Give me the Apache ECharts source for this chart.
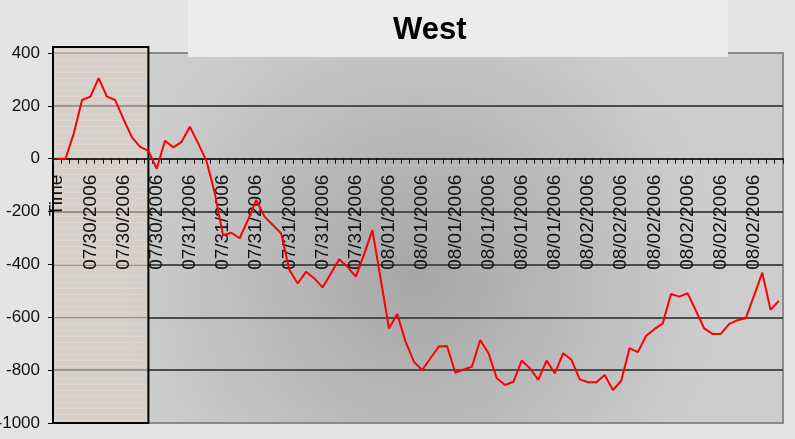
<!DOCTYPE html>
<html>
<head>
<meta charset="utf-8">
<script src="https://cdn.jsdelivr.net/npm/echarts@6/dist/echarts.min.js"></script>
<style>
  html, body { margin: 0; padding: 0; background: #e4e4e4; }
  #chart { width: 795px; height: 439px; }
</style>
</head>
<body>
<div id="chart"></div>
<script>
// Hourly readings for the West region, 07/30/2006 – 08/02/2006
const headerLabel = 'Time';
const days = ['07/30/2006', '07/31/2006', '08/01/2006', '08/02/2006'];
const hoursPerDay = [15, 24, 24, 24];

const values = [
  0, 0, 95, 222, 235, 305, 235, 222, 150, 82, 45, 30,
  -38, 68, 43, 64, 121, 58, -8, -130, -290, -280, -301, -232,
  -156, -219, -251, -282, -421, -472, -428, -453, -487, -434, -380, -409,
  -446, -362, -270, -455, -642, -588, -692, -768, -800, -755, -711, -709,
  -810, -797, -787, -686, -736, -831, -856, -844, -764, -793, -837, -764,
  -812, -736, -761, -835, -846, -846, -818, -875, -840, -717, -732, -670,
  -645, -623, -512, -522, -509, -575, -642, -663, -663, -626, -611, -604,
  -519, -431, -572, -538
];

const yMin = -1000;
const yMax = 400;
const yStep = 200;

// last hour of the highlighted block at the start of the series
const highlightEnd = 11;

const categories = [headerLabel];
days.forEach(function (d, i) {
  for (let h = 0; h < hoursPerDay[i]; h++) categories.push(d);
});

const FONT = '"Liberation Sans", Arial, sans-serif';

// faint striped texture for the highlighted block
const stripe = document.createElement('canvas');
stripe.width = 4;
stripe.height = 6;
const sc = stripe.getContext('2d');
sc.fillStyle = 'rgba(214,211,207,0.55)';
sc.fillRect(0, 0, 4, 6);
sc.fillStyle = 'rgba(236,214,192,0.6)';
sc.fillRect(0, 0, 4, 1);

const chart = echarts.init(document.getElementById('chart'), null, { renderer: 'canvas' });

chart.setOption({
  backgroundColor: '#e4e4e4',
  animation: false,
  title: {
    text: 'West',
    left: 388,
    top: 10,
    z: 10,
    textStyle: { fontFamily: FONT, fontSize: 31, fontWeight: 'bold', color: '#000' }
  },
  grid: {
    left: 53, right: 12, top: 53, bottom: 16,
    outerBoundsMode: 'none',
    containLabel: false,
    show: true,
    borderColor: '#8c8c8c',
    borderWidth: 2,
    backgroundColor: {
      type: 'radial', x: 0.5, y: 0.6, r: 0.8,
      colorStops: [
        { offset: 0, color: '#a6a6a6' },
        { offset: 1, color: '#cdcdcd' }
      ]
    }
  },
  xAxis: {
    type: 'category',
    data: categories,
    boundaryGap: true,
    position: 'bottom',
    z: 2,
    axisLine: { onZero: false, lineStyle: { color: '#2a2a2a', width: 2 } },
    axisTick: { show: true, interval: 0, length: 5, lineStyle: { color: '#111', width: 1 } },
    axisLabel: {
      interval: 3, rotate: 90, margin: 16,
      fontFamily: FONT, fontSize: 19, color: '#111'
    },
    splitLine: { show: false }
  },
  yAxis: {
    type: 'value',
    min: yMin, max: yMax, interval: yStep,
    axisLine: { show: true, lineStyle: { color: '#000', width: 2 } },
    axisTick: { show: true, length: 5, lineStyle: { color: '#000', width: 1 } },
    axisLabel: {
      margin: 13, fontFamily: FONT, fontSize: 17, color: '#111',
      formatter: function (v) { return String(v); }
    },
    splitLine: {
      show: true,
      lineStyle: {
        width: 2,
        color: ['#8a8a8a', '#4c4c4c', '#4c4c4c', '#4c4c4c', '#4c4c4c', '#4c4c4c', '#4c4c4c', '#8a8a8a']
      }
    }
  },
  series: [{
    type: 'line',
    data: values,
    symbol: 'none',
    z: 3,
    lineStyle: { color: '#ff0000', width: 2 },
    itemStyle: { color: '#ff0000' }
  }]
});

// the category axis crosses the value axis at zero
const zeroY = chart.convertToPixel({ yAxisIndex: 0 }, 0);
const bottomY = chart.convertToPixel({ yAxisIndex: 0 }, yMin);

// outlined block over the first hours, placed through the axis scales
const px0 = chart.convertToPixel({ xAxisIndex: 0 }, 0);
const band = chart.convertToPixel({ xAxisIndex: 0 }, 1) - px0;
const boxLeft = px0 - band / 2;
const boxRight = chart.convertToPixel({ xAxisIndex: 0 }, highlightEnd);
const boxTop = chart.convertToPixel({ yAxisIndex: 0 }, yMax) - 6;

chart.setOption({
  xAxis: { offset: -(bottomY - zeroY) },
  graphic: [
    {
      type: 'rect',
      z: 1,
      shape: { x: boxLeft, y: boxTop, width: boxRight - boxLeft, height: bottomY - boxTop },
      style: { fill: { image: stripe, repeat: 'repeat' }, stroke: '#000', lineWidth: 2 }
    },
    {
      type: 'rect',
      z: 5,
      shape: { x: 188, y: 0, width: 540, height: 57 },
      style: { fill: '#ebebeb' }
    }
  ]
});
</script>
</body>
</html>
